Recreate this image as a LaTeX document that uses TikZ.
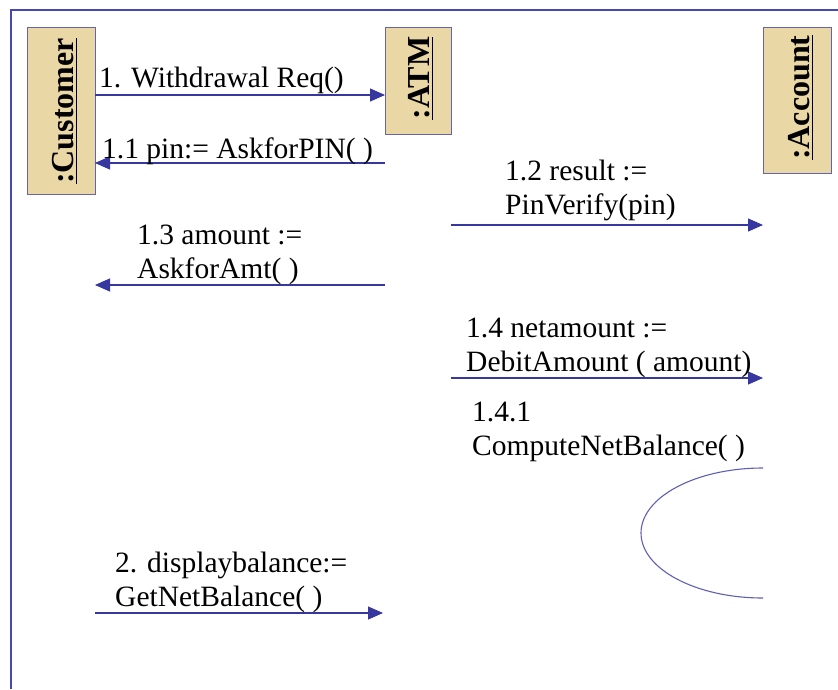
\documentclass[tikz,border=0pt]{standalone}
\usepackage{fontspec}
\setmainfont{Liberation Serif}
\usetikzlibrary{arrows.meta}
\definecolor{frameblue}{RGB}{70,70,180}
\definecolor{arrowblue}{RGB}{55,55,160}
\definecolor{tan}{RGB}{233,215,165}
\definecolor{boxedge}{RGB}{100,100,175}
\tikzset{
  obj/.style={draw=boxedge, line width=1.2pt, fill=tan, inner sep=0pt, anchor=north west},
  objlabel/.style={rotate=90, font=\fontsize{32}{36}\selectfont\bfseries},
  msg/.style={draw=arrowblue, line width=1.1pt, -{Triangle[length=15pt,width=13pt]}},
  lbl/.style={font=\fontsize{29.5}{33.5}\selectfont, align=left, anchor=base west, inner sep=0pt, text=black},
  selfarc/.style={draw=arrowblue!80, line width=1.1pt}
}
\begin{document}
\begin{tikzpicture}[x=1pt,y=-1pt]
\useasboundingbox (0,0) rectangle (838,689);
% frame
\draw[frameblue, line width=1.5pt] (11,689) -- (11,10) -- (838,10);
% objects
\node[obj, minimum width=68pt, minimum height=167pt] (cust) at (27,27) {};
\node[objlabel] at ([xshift=3pt]cust.center) {\underline{:Customer}};
\node[obj, minimum width=66pt, minimum height=107pt] (atm) at (385,27) {};
\node[objlabel] at ([xshift=2pt,yshift=3pt]atm.center) {\underline{:ATM}};
\node[obj, minimum width=68pt, minimum height=146pt] (acc) at (763,27) {};
\node[objlabel] at ([xshift=3pt,yshift=3pt]acc.center) {\underline{:Account}};
% coordinates for message ends
\coordinate (m1s) at (95,95);   \coordinate (m1e) at (385,95);
\coordinate (m11s) at (385,163); \coordinate (m11e) at (95,163);
\coordinate (m12s) at (451,225); \coordinate (m12e) at (763,225);
\coordinate (m13s) at (385,285); \coordinate (m13e) at (95,285);
\coordinate (m14s) at (451,378); \coordinate (m14e) at (763,378);
\coordinate (m2s) at (95,613);  \coordinate (m2e) at (383,613);
\coordinate (arcs) at (763,468);
% messages
\draw[msg] (m1s) -- (m1e);
\node[lbl] (l1) at (99,87) {1. Withdrawal Req()};
\draw[msg] (m11s) -- (m11e);
\node[lbl] (l11) at (102,158) {1.1 pin:= AskforPIN( )};
\draw[msg] (m12s) -- (m12e);
\node[lbl] (l12) at (505,214) {1.2 result :=\\PinVerify(pin)};
\draw[msg] (m13s) -- (m13e);
\node[lbl] (l13) at (137,278) {1.3 amount :=\\AskforAmt( )};
\draw[msg] (m14s) -- (m14e);
\node[lbl] (l14) at (466,371) {1.4 netamount :=\\DebitAmount ( amount)};
\node[lbl] (l141) at (472,455) {1.4.1\\ComputeNetBalance( )};
\draw[selfarc] (arcs) arc[start angle=270, end angle=90, x radius=122, y radius=65];
\draw[msg] (m2s) -- (m2e);
\node[lbl] (l2) at (115,606) {2. displaybalance:=\\GetNetBalance( )};
\end{tikzpicture}
\end{document}
